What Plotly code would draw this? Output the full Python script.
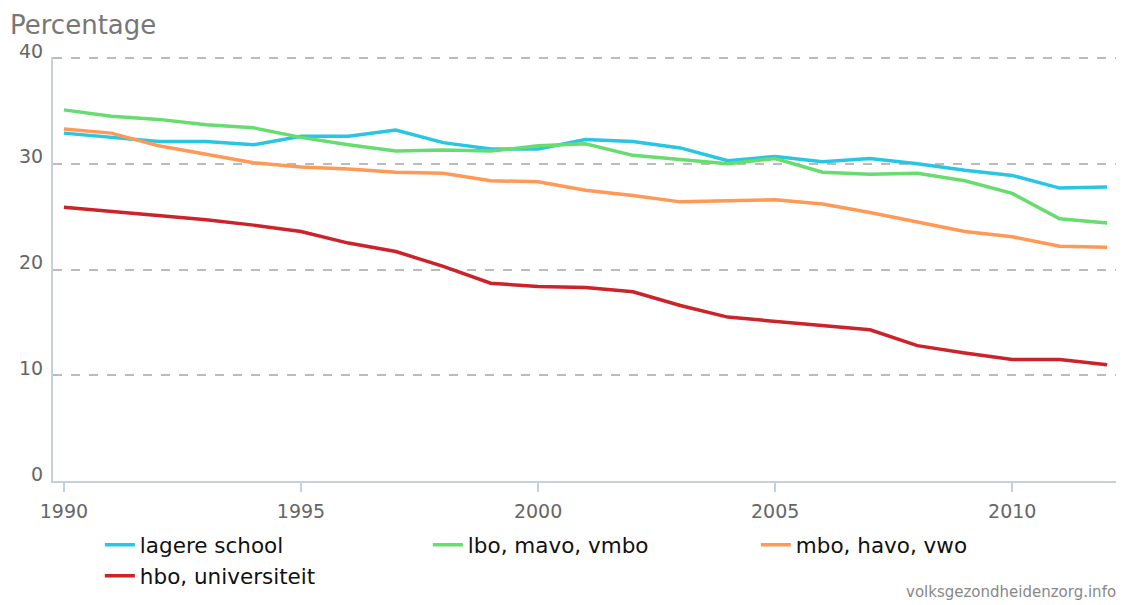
import plotly.graph_objects as go

years = list(range(1990, 2013))
series_names = ["lagere school", "lbo, mavo, vmbo", "mbo, havo, vwo", "hbo, universiteit"]
lagere_school = [32.9, 32.5, 32.1, 32.1, 31.8, 32.6, 32.6, 33.2, 32.0, 31.4, 31.4, 32.3,
                 32.1, 31.5, 30.3, 30.7, 30.2, 30.5, 30.0, 29.4, 28.9, 27.7, 27.8]
lbo_mavo_vmbo = [35.1, 34.5, 34.2, 33.7, 33.4, 32.5, 31.8, 31.2, 31.3, 31.2, 31.7, 31.9,
                 30.8, 30.4, 30.0, 30.5, 29.2, 29.0, 29.1, 28.4, 27.2, 24.8, 24.4]
mbo_havo_vwo = [33.3, 32.9, 31.7, 30.9, 30.1, 29.7, 29.5, 29.2, 29.1, 28.4, 28.3, 27.5,
                27.0, 26.4, 26.5, 26.6, 26.2, 25.4, 24.5, 23.6, 23.1, 22.2, 22.1]
hbo_universiteit = [25.9, 25.5, 25.1, 24.7, 24.2, 23.6, 22.5, 21.7, 20.3, 18.7, 18.4, 18.3,
                    17.9, 16.6, 15.5, 15.1, 14.7, 14.3, 12.8, 12.1, 11.5, 11.5, 11.0]
colors = ["#29c6e4", "#66dd6e", "#ff9955", "#cc2229"]
values = [lagere_school, lbo_mavo_vmbo, mbo_havo_vwo, hbo_universiteit]

fig = go.Figure()
for name, vals, col in zip(series_names, values, colors):
    fig.add_trace(go.Scatter(x=years, y=vals, mode="lines", name=name,
                             line=dict(color=col, width=3.5)))

font_family = "DejaVu Sans, Verdana, sans-serif"
W, H = 1116, 597
L, R, T, B = 45, 6, 49, 124
PW, PH = W - L - R, H - T - B
fig.update_layout(
    width=W, height=H,
    margin=dict(l=L, r=R, t=T, b=B, autoexpand=False),
    paper_bgcolor="white", plot_bgcolor="white",
    font=dict(family=font_family, color="#666666", size=19),
    showlegend=True,
    legend=dict(orientation="h", x=0.044, xanchor="left", y=-0.102, yanchor="top",
                entrywidth=283, entrywidthmode="pixels", tracegroupgap=0,
                font=dict(size=21.5, color="#111111", family=font_family),
                bgcolor="rgba(0,0,0,0)"),
    xaxis=dict(range=[1989.77, 2012.23], tickvals=[1990, 1995, 2000, 2005, 2010],
               showgrid=False, zeroline=False, showline=True, linecolor="#c3d0e0",
               linewidth=2, ticks="outside", ticklen=9, tickwidth=2, tickcolor="#c3d0e0",
               ticklabelstandoff=3, tickfont=dict(size=19, color="#666666")),
    yaxis=dict(range=[0, 40.1], tickvals=[0, 10, 20, 30, 40], showgrid=True, gridcolor="#bbbbbb",
               griddash="dash", gridwidth=1.5, zeroline=False, showline=True,
               linecolor="#c3d0e0", linewidth=2, ticks="", ticklabelstandoff=4,
               ticklabelshift=-7, tickfont=dict(size=19, color="#666666")),
)
# y-axis title placed top-left like the original
fig.add_annotation(text="Percentage", xref="paper", yref="paper",
                   x=(1 - L) / PW, xanchor="left", y=1 + (T - 1) / PH, yanchor="top",
                   showarrow=False, borderpad=0,
                   font=dict(size=26, color="#777777", family=font_family))
fig.add_annotation(text="volksgezondheidenzorg.info", xref="paper", yref="paper",
                   x=1, xanchor="right", y=-(592 - 481) / 424, yanchor="middle",
                   showarrow=False,
                   font=dict(size=15, color="#888888", family=font_family))
fig.write_html("out.html")
